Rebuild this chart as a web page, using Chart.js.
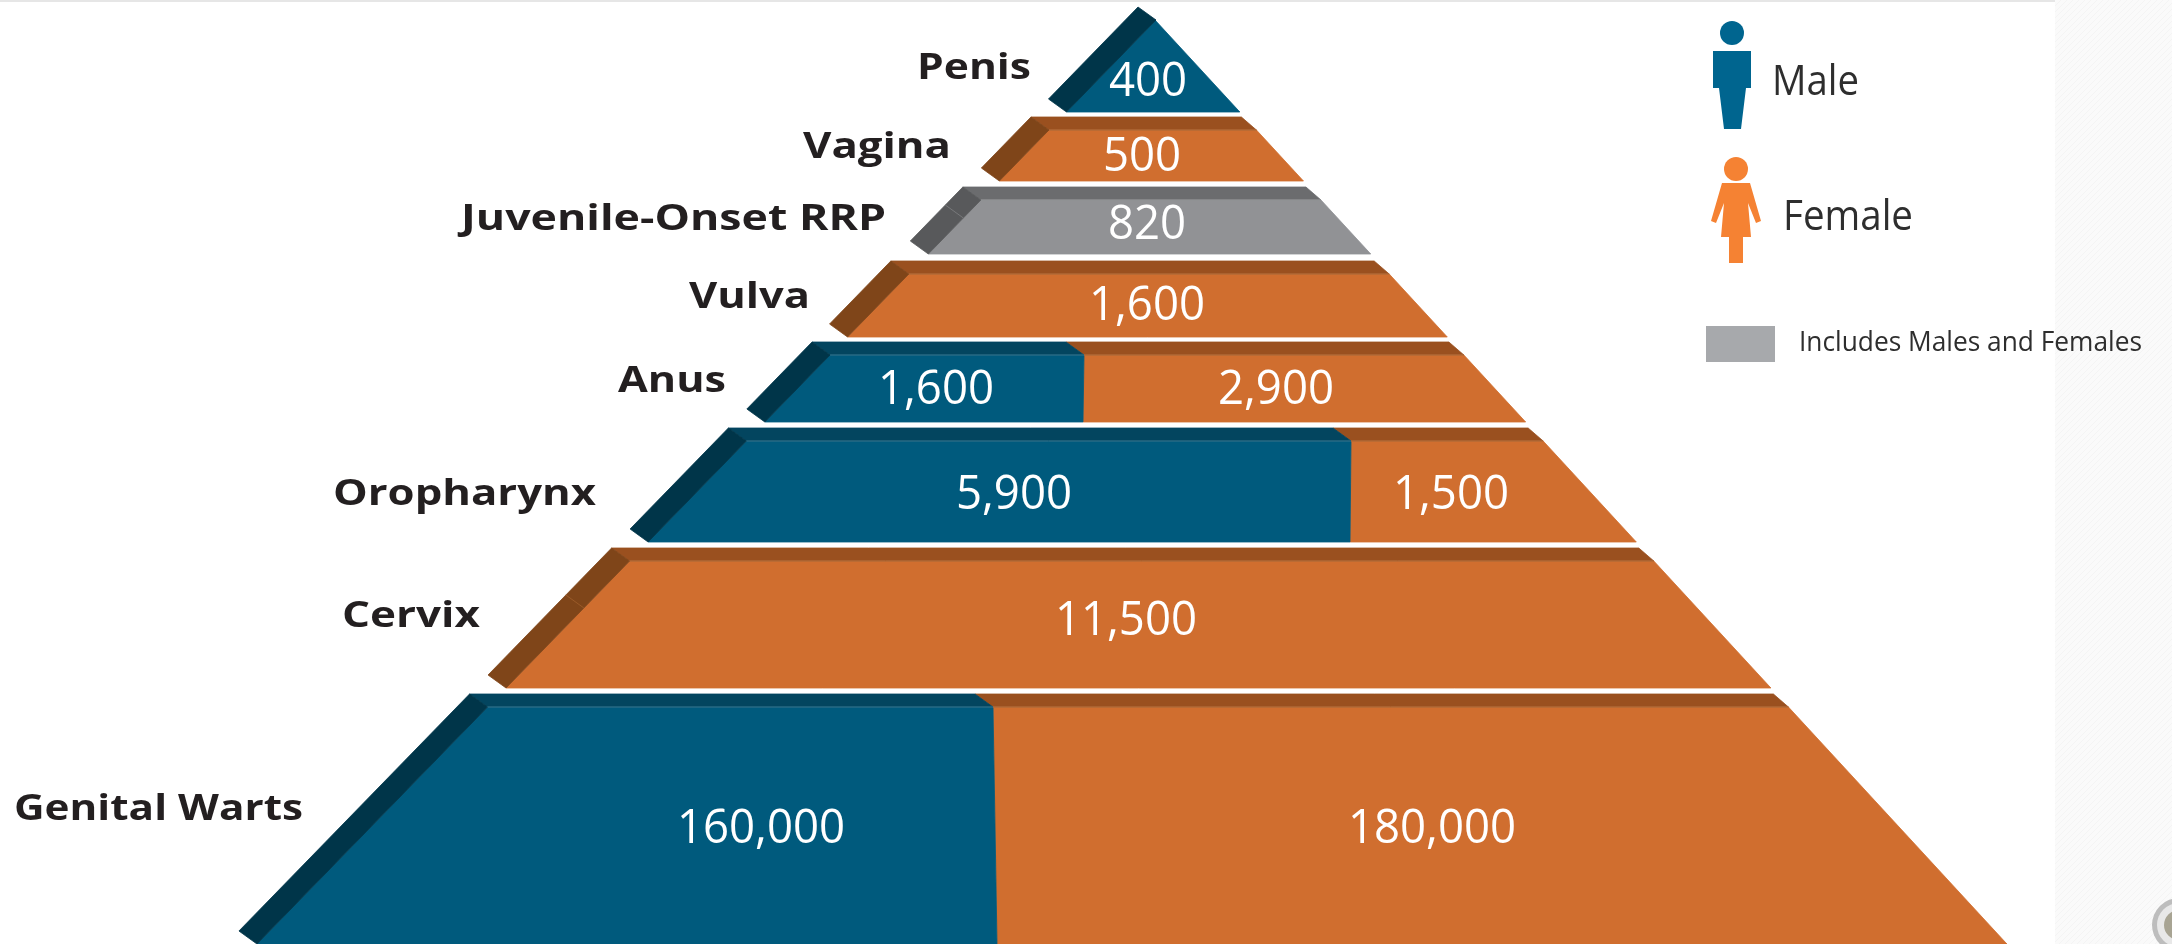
<!DOCTYPE html>
<html>
<head>
<meta charset="utf-8">
<title>HPV-associated cases pyramid</title>
<script src="https://cdn.jsdelivr.net/npm/chart.js@4/dist/chart.umd.min.js"></script>
<style>html,body{margin:0;padding:0;background:#fff;overflow:hidden}canvas{display:block}</style>
</head>
<body>
<canvas id="c" width="2172" height="944"></canvas>
<script>
// ---- values (top of the pyramid first)
const categories = ['Penis','Vagina','Juvenile-Onset RRP','Vulva','Anus','Oropharynx','Cervix','Genital Warts'];
const maleCases   = [400, null, null, null, 1600, 5900, null, 160000];
const femaleCases = [null, 500, null, 1600, 2900, 1500, 11500, 180000];
const bothCases   = [null, null, 820, null, null, null, null, null];

// ---- pyramid axis positions of each band (axis units)
const bandTop    = [20, 130, 200, 274, 355, 441, 561, 707];
const bandBottom = [112, 181, 254, 337, 422, 542, 688, 944];
const splitTop    = [null, null, null, null, 1084, 1351, null, 993];
const splitBottom = [null, null, null, null, 1083, 1350, null, 997];
const seamAt      = [null, null, 218, null, null, null, 608, null];

const maleLabelX   = [1148, null, null, null, 936, 1014, null, 761];
const femaleLabelX = [null, 1142, null, 1147, 1276, 1451, 1126, 1432];
const bothLabelX   = [null, null, 1147, null, null, null, null, null];
const valueBaseline = [96, 171, 239, 320, 404, 509, 635, 843];
const catLeft     = [917, 803, 461, 689, 618, 333, 342, 14];
const catRight    = [1031, 951, 886, 810, 726, 596, 480, 303];
const catBaseline = [79, 158, 230, 308, 392, 505, 627, 820];

const leftApexX = 1156, rightApexX = 1155, apexY = 20, leftSlope = 0.973, rightSlope = 0.922;
const depthLeft = [-18, -13], depthRight = [-15, -13];

const COL = {
  male:   {front:'#005A7D', top:'#03455F', side:'#003549', edge:'#3A7C96'},
  female: {front:'#D06E2F', top:'#9A501F', side:'#7F4519', edge:'#BA7542'},
  both:   {front:'#919295', top:'#6B6C6E', side:'#58595B', edge:'#A0A1A3'}
};

const L = y => leftApexX - leftSlope * (y - apexY);
const R = y => rightApexX + rightSlope * (y - apexY);

function poly(points, color) {
  const pts = points.concat([points[0]]).map(p => ({x:p[0], y:p[1]}));
  return {data:pts, showLine:true, fill:'shape', backgroundColor:color, borderColor:color,
          borderWidth:0.8, pointRadius:0, tension:0, clip:false};
}
function stroke(a, b, color) {
  return {data:[{x:a[0],y:a[1]},{x:b[0],y:b[1]}], showLine:true, fill:false, borderColor:color, borderWidth:1, pointRadius:0};
}

const datasets = [];
categories.forEach((name, i) => {
  const t = bandTop[i], b = bandBottom[i];
  const kind = bothCases[i] != null ? 'both' : (maleCases[i] != null ? 'male' : 'female');
  const leftCol = COL[kind];
  const hasSplit = splitTop[i] != null;
  // thin highlights are listed first so that they stay above the faces (Chart.js paints the last dataset first)
  if (i > 0) {
    if (hasSplit) {
      datasets.push(stroke([L(t),t],[splitTop[i],t], COL.male.edge));
      datasets.push(stroke([splitTop[i],t],[R(t),t], COL.female.edge));
    } else {
      datasets.push(stroke([L(t),t],[R(t),t], leftCol.edge));
    }
  }
  if (seamAt[i] != null) {
    const s = seamAt[i];
    datasets.push(stroke([L(s),s],[L(s)+depthLeft[0],s+depthLeft[1]], kind==='both'?'#77787A':'#9A5A28'));
  }
  // side face
  datasets.push(poly([[L(t),t],[L(t)+depthLeft[0],t+depthLeft[1]],[L(b)+depthLeft[0],b+depthLeft[1]],[L(b),b]], leftCol.side));
  // top face
  if (i > 0) {
    if (hasSplit) {
      datasets.push(poly([[L(t),t],[L(t)+depthLeft[0],t+depthLeft[1]],[splitTop[i]+depthLeft[0],t+depthLeft[1]],[splitTop[i],t]], COL.male.top));
      datasets.push(poly([[splitTop[i],t],[splitTop[i]+depthLeft[0],t+depthLeft[1]],[R(t)+depthRight[0],t+depthRight[1]],[R(t),t]], COL.female.top));
    } else {
      datasets.push(poly([[L(t),t],[L(t)+depthLeft[0],t+depthLeft[1]],[R(t)+depthRight[0],t+depthRight[1]],[R(t),t]], leftCol.top));
    }
  }
  // front face
  if (hasSplit) {
    datasets.push(poly([[L(t),t],[splitTop[i],t],[splitBottom[i],b],[L(b),b]], COL.male.front));
    datasets.push(poly([[splitTop[i],t],[R(t),t],[R(b),b],[splitBottom[i],b]], COL.female.front));
  } else {
    datasets.push(poly([[L(t),t],[R(t),t],[R(b),b],[L(b),b]], leftCol.front));
  }
});

function stretched(ctx, text, left, right, baseline, font, color) {
  ctx.save();
  ctx.font = font; ctx.fillStyle = color;
  ctx.textAlign = 'left'; ctx.textBaseline = 'alphabetic';
  const w = ctx.measureText(text).width;
  ctx.translate(left, baseline);
  ctx.scale((right - left) / w, 1);
  ctx.fillText(text, 0, 0);
  ctx.restore();
}
function valueText(ctx, text, cx, baseline) {
  ctx.save();
  ctx.font = '47px "Open Sans"'; ctx.fillStyle = '#FFFFFF';
  ctx.textAlign = 'center'; ctx.textBaseline = 'alphabetic';
  ctx.translate(cx, baseline);
  ctx.scale(0.97, 1);
  ctx.fillText(text, 0, 0);
  ctx.restore();
}

const pageBack = {
  id:'pageBack',
  beforeDraw(chart) {
    const {ctx} = chart;
    ctx.save();
    ctx.fillStyle = '#ffffff'; ctx.fillRect(0,0,2172,944);
    ctx.fillStyle = '#FAFAFA'; ctx.fillRect(2055,0,117,944);
    ctx.save(); ctx.beginPath(); ctx.rect(2055,0,117,944); ctx.clip();
    ctx.strokeStyle = '#F4F4F4'; ctx.lineWidth = 1;
    for (let k = -944; k < 120; k += 6) {
      ctx.beginPath(); ctx.moveTo(2055+k,944); ctx.lineTo(2055+k+944,0); ctx.stroke();
    }
    ctx.restore();
    ctx.fillStyle = '#E6E6E6'; ctx.fillRect(0,0,2055,2);
    // corner button
    ctx.beginPath(); ctx.arc(2179,925,27,0,Math.PI*2); ctx.fillStyle='#BDBDBD'; ctx.fill();
    ctx.beginPath(); ctx.arc(2179,925,22,0,Math.PI*2); ctx.fillStyle='#E8E8E8'; ctx.fill();
    ctx.beginPath(); ctx.arc(2179,925,15,0,Math.PI*2); ctx.fillStyle='#A8A493'; ctx.fill();
    ctx.restore();
  }
};

const annotations = {
  id:'annotations',
  afterDatasetsDraw(chart) {
    const {ctx, scales:{x, y}} = chart;
    const px = v => x.getPixelForValue(v), py = v => y.getPixelForValue(v);
    const fmt = v => v.toLocaleString('en-US');
    ctx.save();
    categories.forEach((name, i) => {
      stretched(ctx, name, px(catLeft[i]), px(catRight[i]), py(catBaseline[i]), '700 36px "Open Sans"', '#231F20');
      if (maleCases[i] != null) valueText(ctx, fmt(maleCases[i]), px(maleLabelX[i]), py(valueBaseline[i]));
      if (femaleCases[i] != null) valueText(ctx, fmt(femaleCases[i]), px(femaleLabelX[i]), py(valueBaseline[i]));
      if (bothCases[i] != null) valueText(ctx, fmt(bothCases[i]), px(bothLabelX[i]), py(valueBaseline[i]));
    });
    // legend: male
    ctx.fillStyle = '#00658F';
    ctx.beginPath(); ctx.arc(1732,33,12,0,Math.PI*2); ctx.fill();
    ctx.beginPath();
    [[1713,51],[1751,51],[1751,88],[1746,88],[1741,129],[1724,129],[1719,88],[1713,88]]
      .forEach((p,k)=>k?ctx.lineTo(p[0],p[1]):ctx.moveTo(p[0],p[1]));
    ctx.closePath(); ctx.fill();
    // legend: female
    ctx.fillStyle = '#F58233';
    ctx.beginPath(); ctx.arc(1736,169,12,0,Math.PI*2); ctx.fill();
    ctx.beginPath();
    [[1722,183],[1750,183],[1761,221],[1756,223],[1748,203],[1751,237],[1743,237],[1743,263],[1729,263],[1729,237],[1721,237],[1724,203],[1716,223],[1711,221]]
      .forEach((p,k)=>k?ctx.lineTo(p[0],p[1]):ctx.moveTo(p[0],p[1]));
    ctx.closePath(); ctx.fill();
    // legend: both
    ctx.fillStyle = '#A7A9AC'; ctx.fillRect(1706,326,69,36);
    stretched(ctx, 'Male', 1772, 1859, 95, '42px "Open Sans"', '#2E2E2E');
    stretched(ctx, 'Female', 1783, 1913, 230, '42px "Open Sans"', '#2E2E2E');
    stretched(ctx, 'Includes Males and Females', 1799, 2142, 351, '28px "Open Sans"', '#2E2E2E');
    ctx.restore();
  }
};

new Chart(document.getElementById('c'), {
  type:'scatter',
  data:{datasets},
  options:{
    responsive:false, animation:false, devicePixelRatio:1,
    layout:{padding:0},
    plugins:{legend:{display:false}, tooltip:{enabled:false}},
    scales:{
      x:{type:'linear', min:0, max:2172, display:false},
      y:{type:'linear', min:0, max:944, reverse:true, display:false}
    }
  },
  plugins:[pageBack, annotations]
});
</script>
</body>
</html>
